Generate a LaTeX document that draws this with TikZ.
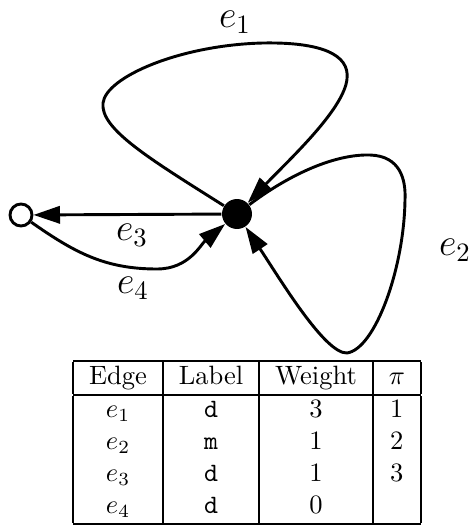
\documentclass[tikz,border=0pt]{standalone}
\usepackage{amsmath}
\usepackage{tikz}
\usetikzlibrary{arrows.meta}
\setlength{\arrayrulewidth}{0.7pt}

\begin{document}
\begin{tikzpicture}[x=0.377pt, y=0.377pt,
    edge/.style={line width=1.1pt, -{Triangle[length=10pt, width=6.5pt]}},
    fullvertex/.style={circle, fill=black, minimum size=11.3pt, inner sep=0pt},
    emptyvertex/.style={circle, draw=black, fill=white, line width=1.1pt, minimum size=8.3pt, inner sep=0pt},
    elabel/.style={font=\Large}]
    \useasboundingbox (0,0) rectangle (471,529);

    % Vertices
    \node[fullvertex] (v) at (237,315) {};
    \node[emptyvertex] (w) at (21,314) {};

    % Loops
    \draw[edge] (v) .. controls (150,370) and (100,400) .. (103,426)
        .. controls (106,452) and (180,484) .. (263,486)
        .. controls (320,487) and (350,475) .. (347,450)
        .. controls (344,420) and (290,370) .. (v);
    \draw[edge] (v) .. controls (290,355) and (335,375) .. (370,374)
        .. controls (400,373) and (406,350) .. (405,329)
        .. controls (404,260) and (375,180) .. (347,176)
        .. controls (325,175) and (280,250) .. (v);

    % Edges to the empty vertex
    \draw[edge] (v) -- (w);
    \draw[edge] (w) to[out=-35, in=180] (157,260) to[out=0, in=-140] (v);

    % Edge labels
    \node[elabel] (l1) at (235,507) {$e_1$};
    \node[elabel] (l2) at (455,279) {$e_2$};
    \node[elabel] (l3) at (132,294) {$e_3$};
    \node[elabel] (l4) at (133,241) {$e_4$};

    % Table
    \node[inner sep=0pt] (tab) at (247,86.5) {%
        \begin{tabular}{|c|c|c|c|}
            \hline
            Edge & Label & Weight & $\pi$ \\
            \hline
            $e_1$ & \texttt{d} & 3 & 1 \\
            $e_2$ & \texttt{m} & 1 & 2 \\
            $e_3$ & \texttt{d} & 1 & 3 \\
            $e_4$ & \texttt{d} & 0 &   \\
            \hline
        \end{tabular}};
\end{tikzpicture}
\end{document}
